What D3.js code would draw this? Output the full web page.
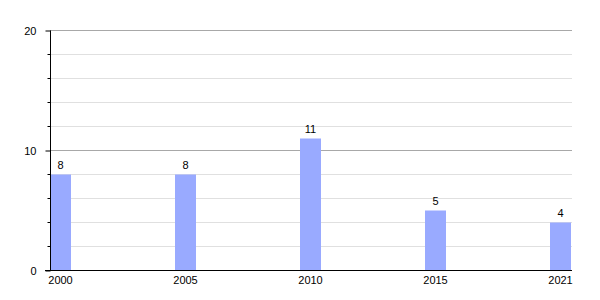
<!DOCTYPE html>
<html lang="en">
<head>
	<meta charset="UTF-8">
	<title>bars</title>
	<script src="https://d3js.org/d3.v7.min.js" charset="utf-8"></script>
	<style>
		body { margin: 0; background: #fff; }
		text { font-family: "Liberation Sans", Arial, sans-serif; font-size: 11px; fill: #000; }
	</style>
</head>
<body>
	<svg></svg>
	<script>
		const years = ['2000', '2005', '2010', '2015', '2021']
		const values = [8, 8, 11, 5, 4]
		const majorTicks = [0, 10, 20]
		const minorTicks = [2, 4, 6, 8, 12, 14, 16, 18]

		const svg = d3.select('svg')
			.attr('width', 600)
			.attr('height', 300)

		const x = d3.scaleBand()
			.domain(years)
			.range([50, 571])
			.paddingInner(0.832)
			.paddingOuter(0)

		const y = d3.scaleLinear()
			.domain([0, 20])
			.range([270.5, 30.5])

		// grid
		svg.append('g')
			.selectAll('line')
			.data(minorTicks)
			.join('line')
				.attr('x1', 50).attr('x2', 572)
				.attr('y1', d => y(d)).attr('y2', d => y(d))
				.attr('stroke', '#e0e0e0')

		svg.append('g')
			.selectAll('line')
			.data(majorTicks.filter(d => d > 0))
			.join('line')
				.attr('x1', 50).attr('x2', 572)
				.attr('y1', d => y(d)).attr('y2', d => y(d))
				.attr('stroke', '#a8a8a8')

		// bars
		svg.append('g')
			.selectAll('rect')
			.data(values)
			.join('rect')
				.attr('x', (d, i) => x(years[i]))
				.attr('y', d => y(d))
				.attr('width', x.bandwidth())
				.attr('height', d => y(0) - y(d))
				.attr('fill', '#99aaff')

		svg.append('g')
			.selectAll('text')
			.data(values)
			.join('text')
				.attr('x', (d, i) => x(years[i]) + x.bandwidth() / 2)
				.attr('y', d => y(d) - 6)
				.attr('text-anchor', 'middle')
				.text(d => d)

		// y axis
		const yAxis = svg.append('g')
			.attr('transform', 'translate(50.5,0)')
			.call(d3.axisLeft(y).tickValues(majorTicks).tickSize(5).tickPadding(9))
		yAxis.select('.domain').attr('d', `M0,${y(20)}V${y(0)}`)
		yAxis.selectAll('text').style('font-size', '11px').style('font-family', 'Liberation Sans, Arial, sans-serif')

		yAxis.append('g')
			.selectAll('line')
			.data(minorTicks)
			.join('line')
				.attr('x1', -3).attr('x2', 0)
				.attr('y1', d => y(d)).attr('y2', d => y(d))
				.attr('stroke', '#000')

		// x axis
		const xAxis = svg.append('g')
			.attr('transform', `translate(0,${y(0)})`)
			.call(d3.axisBottom(x).tickSize(0).tickPadding(6))
		xAxis.select('.domain').attr('d', 'M45,0H572')
		xAxis.selectAll('text').style('font-size', '11px').style('font-family', 'Liberation Sans, Arial, sans-serif')
	</script>
</body>
</html>
